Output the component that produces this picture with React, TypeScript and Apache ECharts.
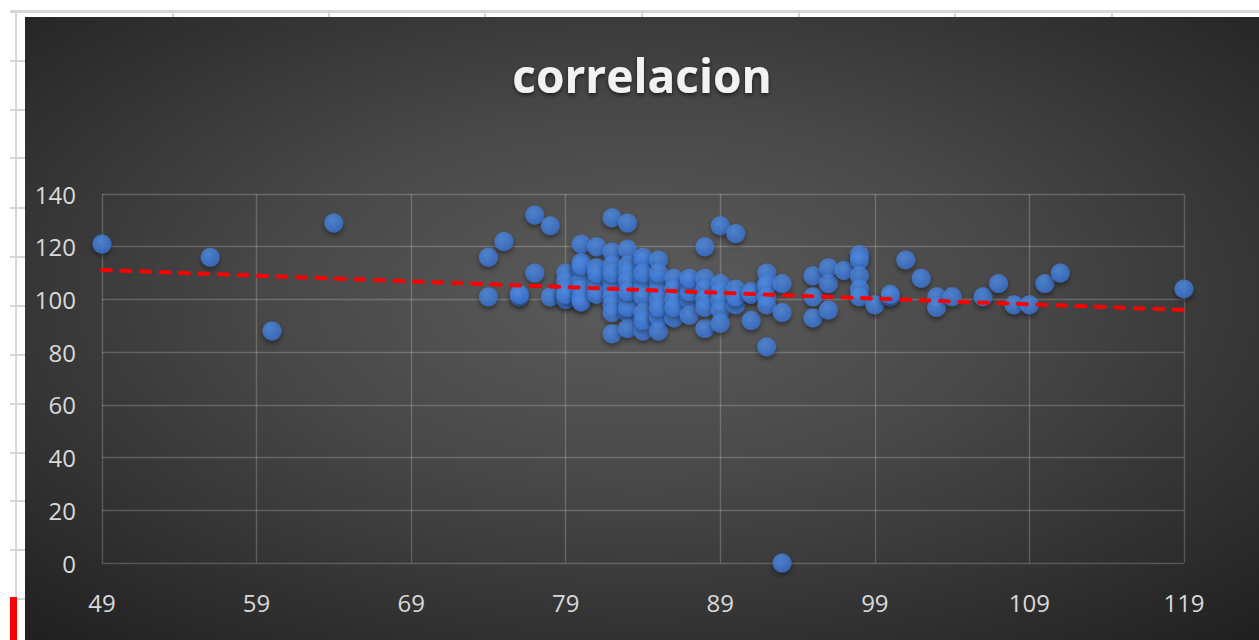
import React, { useEffect, useRef } from "react";
import * as echarts from "echarts";

const chartTitle = "correlacion";
const xAxisRange = { min: 49, max: 119, interval: 10 };
const yAxisRange = { min: 0, max: 140, interval: 20 };

// [x, y] pairs
const points: [number, number][] = [
  [49, 121], [56, 116], [60, 88], [64, 129],
  [74, 116], [74, 101], [75, 122], [76, 101], [76, 102],
  [77, 110], [77, 132], [78, 128], [78, 101],
  [79, 110], [79, 107], [79, 104], [79, 101], [79, 100], [79, 102],
  [80, 121], [80, 114], [80, 111], [80, 107], [80, 104], [80, 100], [80, 101], [80, 99], [80, 113],
  [81, 120], [81, 112], [81, 107], [81, 104], [81, 102], [81, 110],
  [82, 131], [82, 118], [82, 113], [82, 107], [82, 104], [82, 101], [82, 98], [82, 95], [82, 87], [82, 110],
  [83, 129], [83, 119], [83, 113], [83, 110], [83, 107], [83, 100], [83, 95], [83, 89], [83, 97], [83, 103],
  [84, 114], [84, 116], [84, 107], [84, 104], [84, 101], [84, 95], [84, 88], [84, 92], [84, 110],
  [85, 115], [85, 107], [85, 104], [85, 100], [85, 94], [85, 93], [85, 88], [85, 110], [85, 97],
  [86, 108], [86, 104], [86, 100], [86, 93], [86, 97],
  [87, 106], [87, 100], [87, 94], [87, 103], [87, 108],
  [88, 120], [88, 108], [88, 104], [88, 100], [88, 89], [88, 97],
  [89, 128], [89, 106], [89, 103], [89, 100], [89, 96], [89, 91],
  [90, 125], [90, 104], [90, 98], [90, 101],
  [91, 103], [91, 102], [91, 92],
  [92, 110], [92, 106], [92, 105], [92, 101], [92, 98], [92, 82],
  [93, 106], [93, 95], [93, 0],
  [95, 109], [95, 101], [95, 93],
  [96, 112], [96, 106], [96, 96],
  [97, 111],
  [98, 117], [98, 115], [98, 109], [98, 104], [98, 101],
  [99, 98], [100, 101], [100, 102], [101, 115], [102, 108],
  [103, 101], [103, 97], [104, 101], [106, 101], [107, 106],
  [108, 98], [109, 98], [110, 106], [111, 110], [119, 104],
];

// linear trendline (Excel) at the axis ends
const trendX = [49, 119];
const trendY = [111.2, 96.0];

const sheetCols = [173, 329, 485, 642, 799, 955, 1112];
const sheetRows = [60, 109, 157, 207, 256, 305, 354, 403, 452, 500, 549, 598];

export default function App() {
  const ref = useRef<HTMLDivElement>(null);

  useEffect(() => {
    if (!ref.current) return;
    const chart = echarts.init(ref.current, undefined, { renderer: "svg" });
    const trend = trendX.map((x, i) => [x, trendY[i]]);
    const labelFont = { color: "#d9d9d9", fontSize: 24, fontFamily: "Open Sans" };
    const gridLine = { show: true, lineStyle: { color: "rgba(255,255,255,0.2)", width: 1.4 } };

    chart.setOption({
      animation: false,
      backgroundColor: new echarts.graphic.RadialGradient(0.5, 0.45, 0.75, [
        { offset: 0, color: "#5c5c5c" },
        { offset: 0.4, color: "#484848" },
        { offset: 1, color: "#1f1f1f" },
      ]),
      title: {
        text: chartTitle,
        left: "center",
        top: 30,
        textStyle: {
          color: "#f2f2f2",
          fontSize: 46,
          fontWeight: "bold",
          fontFamily: "Open Sans",
          textShadowColor: "rgba(0,0,0,0.6)",
          textShadowBlur: 4,
          textShadowOffsetY: 2,
        },
      },
      grid: { left: 77, right: 75, top: 177, bottom: 77, containLabel: false },
      xAxis: {
        type: "value",
        min: xAxisRange.min,
        max: xAxisRange.max,
        interval: xAxisRange.interval,
        axisLine: { show: false },
        axisTick: { show: false },
        splitLine: gridLine,
        axisLabel: { ...labelFont, margin: 27 },
      },
      yAxis: {
        type: "value",
        min: yAxisRange.min,
        max: yAxisRange.max,
        interval: yAxisRange.interval,
        axisLine: { show: false },
        axisTick: { show: false },
        splitLine: gridLine,
        axisLabel: { ...labelFont, margin: 26 },
      },
      series: [
        {
          type: "scatter",
          data: points,
          symbolSize: 19,
          itemStyle: {
            color: new echarts.graphic.RadialGradient(0.4, 0.35, 0.7, [
              { offset: 0, color: "#5290e6" },
              { offset: 1, color: "#386ecd" },
            ]),
            shadowColor: "rgba(0,0,0,0.5)",
            shadowBlur: 5,
            shadowOffsetY: 3,
          },
          z: 3,
        },
        {
          type: "line",
          data: trend,
          showSymbol: false,
          symbol: "none",
          lineStyle: { color: "#ff0000", width: 4, type: [9, 10.5], cap: "round" },
          z: 4,
        },
      ],
    });
    return () => chart.dispose();
  }, []);

  return (
    <div style={{ position: "fixed", left: 0, top: 0, width: 1259, height: 640, background: "#ffffff", overflow: "hidden" }}>
      <div style={{ position: "absolute", left: 10, top: 10, width: 1249, height: 3, background: "#d6d6d6" }} />
      <div style={{ position: "absolute", left: 15, top: 10, width: 2, height: 630, background: "#d6d6d6" }} />
      {sheetCols.map((x) => (
        <div key={"c" + x} style={{ position: "absolute", left: x - 1, top: 10, width: 2, height: 8, background: "#d6d6d6" }} />
      ))}
      {sheetRows.map((y) => (
        <div key={"r" + y} style={{ position: "absolute", left: 10, top: y, width: 16, height: 2, background: "#d6d6d6" }} />
      ))}
      <div style={{ position: "absolute", left: 10, top: 597, width: 7, height: 43, background: "#ff0000" }} />
      <div ref={ref} style={{ position: "absolute", left: 25, top: 17, width: 1234, height: 623 }} />
    </div>
  );
}
